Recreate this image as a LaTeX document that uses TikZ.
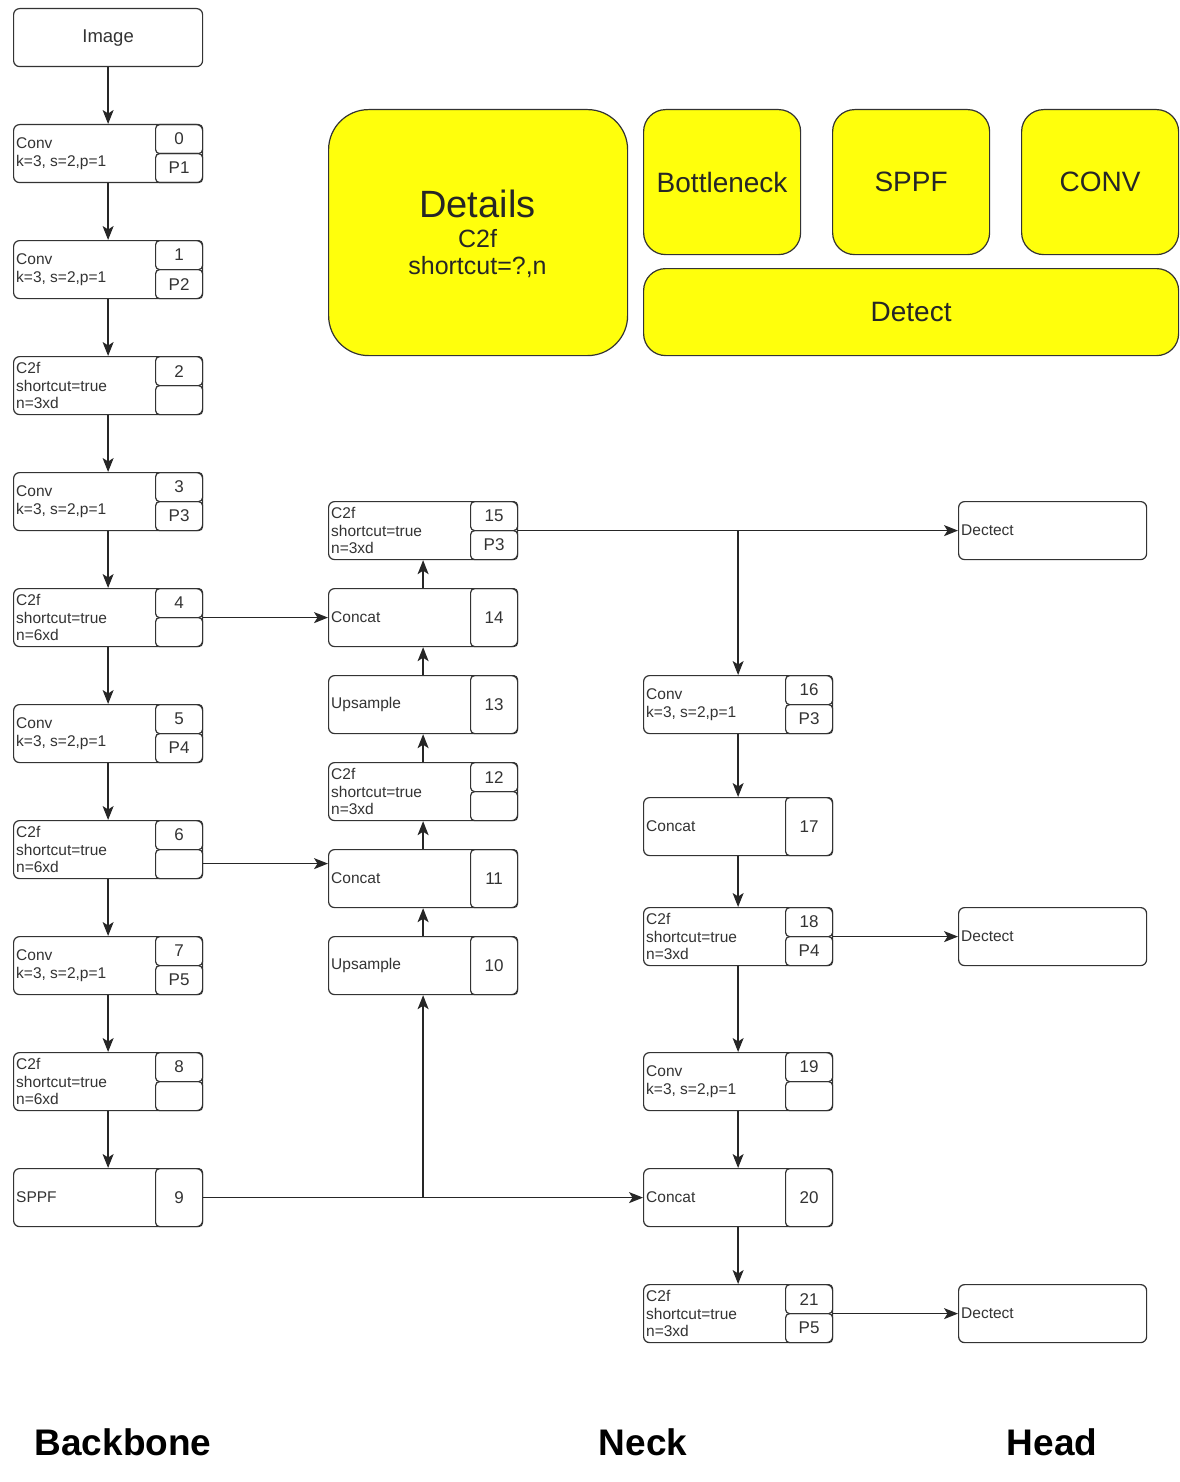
\documentclass[tikz,border=0pt]{standalone}
\usepackage{fontspec}
\setmainfont{Liberation Sans}
\usetikzlibrary{arrows.meta,calc}
\definecolor{yfill}{RGB}{255,255,12}
\newcommand\blkTwo[6]{%
  \node[blk] (#1) at (#2,#3) {};
  \node[lbl] (#1l) at ([xshift=3pt]#1.west) {#4};
  \node[cellt] (#1t) at (#1.north east) {#5};
  \node[cellb] (#1b) at (#1.south east) {#6};}
\newcommand\blkOne[5]{%
  \node[blk] (#1) at (#2,#3) {};
  \node[lbl] (#1l) at ([xshift=3pt]#1.west) {#4};
  \node[cellf] (#1t) at (#1.north east) {#5};}
\begin{document}
\begin{tikzpicture}[x=1pt,y=-1pt,
  ln/.style={draw=black!85, line width=1.3pt},
  arr/.style={ln, -{Stealth[length=14pt,width=11pt,inset=3.5pt]}},
  blk/.style={draw=black!80, line width=1.2pt, rounded corners=6pt, minimum width=189pt, minimum height=58pt, anchor=north west, inner sep=0pt, fill=white},
  lbl/.style={anchor=west, align=left, inner sep=0pt, font=\fontsize{15.5}{17.5}\selectfont, text=black!80},
  cellt/.style={draw=black!80, line width=1.2pt, rounded corners=4pt, minimum width=47pt, minimum height=29pt, anchor=north east, inner sep=0pt, font=\fontsize{17}{20}\selectfont, text=black!80},
  cellb/.style={cellt, anchor=south east},
  cellf/.style={cellt, minimum height=58pt},
  yel/.style={draw=black!80, fill=yfill, line width=1.2pt, rounded corners=22pt, anchor=north west, inner sep=0pt, font=\fontsize{28}{32}\selectfont, text=black!85},
  sect/.style={font=\bfseries\fontsize{37}{42}\selectfont, text=black}
]
\useasboundingbox (0,0) rectangle (1179,1482);
\fill[white] (0,0) rectangle (1179,1482);

% yellow detail boxes
\node[yel, rounded corners=40pt, minimum width=299pt, minimum height=246pt] (det) at (328,109) {};
\node[font=\fontsize{38}{42}\selectfont, text=black!85] (dett1) at (477.5,204) {Details};
\node[font=\fontsize{25}{28}\selectfont, text=black!85] (dett2) at (477.5,239) {C2f};
\node[font=\fontsize{25}{28}\selectfont, text=black!85] (dett3) at (477.5,267) {shortcut=?,n};
\node[yel, minimum width=157pt, minimum height=145pt] (bot) at (643,109) {Bottleneck};
\node[yel, minimum width=157pt, minimum height=145pt] (spf) at (832,109) {SPPF};
\node[yel, minimum width=157pt, minimum height=145pt] (cnv) at (1021,109) {CONV};
\node[yel, minimum width=535pt, minimum height=87pt] (dtc) at (643,268) {Detect};

% backbone
\node[blk, font=\fontsize{18.5}{22}\selectfont, text=black!80] (img) at (13,8) {Image};
\blkTwo{c0}{13}{124}{Conv\\k=3, s=2,p=1}{0}{P1}
\blkTwo{c1}{13}{240}{Conv\\k=3, s=2,p=1}{1}{P2}
\blkTwo{c2}{13}{356}{C2f\\shortcut=true\\n=3xd}{2}{}
\blkTwo{c3}{13}{472}{Conv\\k=3, s=2,p=1}{3}{P3}
\blkTwo{c4}{13}{588}{C2f\\shortcut=true\\n=6xd}{4}{}
\blkTwo{c5}{13}{704}{Conv\\k=3, s=2,p=1}{5}{P4}
\blkTwo{c6}{13}{820}{C2f\\shortcut=true\\n=6xd}{6}{}
\blkTwo{c7}{13}{936}{Conv\\k=3, s=2,p=1}{7}{P5}
\blkTwo{c8}{13}{1052}{C2f\\shortcut=true\\n=6xd}{8}{}
\blkOne{c9}{13}{1168}{SPPF}{9}

% neck column 1
\blkTwo{n15}{328}{501}{C2f\\shortcut=true\\n=3xd}{15}{P3}
\blkOne{n14}{328}{588}{Concat}{14}
\blkOne{n13}{328}{675}{Upsample}{13}
\blkTwo{n12}{328}{762}{C2f\\shortcut=true\\n=3xd}{12}{}
\blkOne{n11}{328}{849}{Concat}{11}
\blkOne{n10}{328}{936}{Upsample}{10}

% neck column 2
\blkTwo{n16}{643}{675}{Conv\\k=3, s=2,p=1}{16}{P3}
\blkOne{n17}{643}{797}{Concat}{17}
\blkTwo{n18}{643}{907}{C2f\\shortcut=true\\n=3xd}{18}{P4}
\blkTwo{n19}{643}{1052}{Conv\\k=3, s=2,p=1}{19}{}
\blkOne{n20}{643}{1168}{Concat}{20}
\blkTwo{n21}{643}{1284}{C2f\\shortcut=true\\n=3xd}{21}{P5}

% head
\node[blk, minimum width=188pt] (h1) at (958,501) {};
\node[lbl] (h1l) at ([xshift=3pt]h1.west) {Dectect};
\node[blk, minimum width=188pt] (h2) at (958,907) {};
\node[lbl] (h2l) at ([xshift=3pt]h2.west) {Dectect};
\node[blk, minimum width=188pt] (h3) at (958,1284) {};
\node[lbl] (h3l) at ([xshift=3pt]h3.west) {Dectect};

% section labels
\node[sect] (sb) at (123,1442) {Backbone};
\node[sect] (sn) at (643,1442) {Neck};
\node[sect] (sh) at (1052,1442) {Head};

% backbone connectors
\draw[arr] (img) -- (c0);
\draw[arr] (c0) -- (c1);
\draw[arr] (c1) -- (c2);
\draw[arr] (c2) -- (c3);
\draw[arr] (c3) -- (c4);
\draw[arr] (c4) -- (c5);
\draw[arr] (c5) -- (c6);
\draw[arr] (c6) -- (c7);
\draw[arr] (c7) -- (c8);
\draw[arr] (c8) -- (c9);

% lateral connectors
\draw[arr] (c4.east) -- (n14.west);
\draw[arr] ([yshift=-14pt]c6.east) -- ([yshift=-14pt]c6.east -| n11.west);
\draw[arr] (c9.east) -- (n20.west);
\draw[arr] (c9.east -| n10.south) -- (n10.south);

% neck column 1 (upwards)
\draw[arr] (n10) -- (n11);
\draw[arr] (n11) -- (n12);
\draw[arr] (n12) -- (n13);
\draw[arr] (n13) -- (n14);
\draw[arr] (n14) -- (n15);

% to head and neck column 2
\draw[arr] (n15.east) -- (h1.west);
\draw[arr] (n15.east -| n16.north) -- (n16.north);
\draw[arr] (n16) -- (n17);
\draw[arr] (n17) -- (n18);
\draw[arr] (n18) -- (n19);
\draw[arr] (n19) -- (n20);
\draw[arr] (n20) -- (n21);
\draw[arr] (n18.east) -- (h2.west);
\draw[arr] (n21.east) -- (h3.west);
\end{tikzpicture}
\end{document}
